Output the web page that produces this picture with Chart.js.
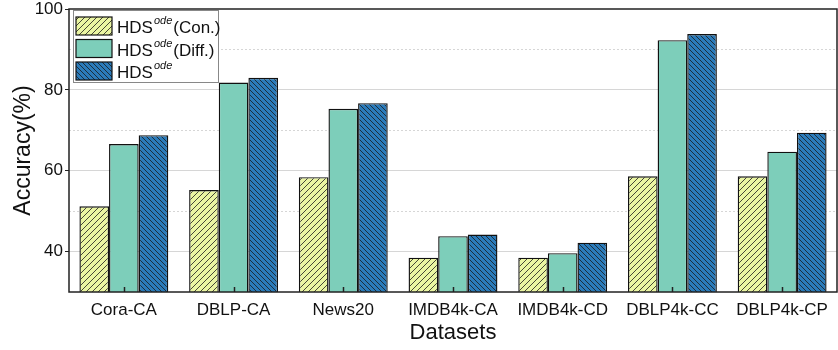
<!DOCTYPE html>
<html lang="en">
<head>
  <meta charset="UTF-8" />
  <title>Accuracy by dataset</title>
  <script src="https://cdn.jsdelivr.net/npm/chart.js"></script>
  <style>
    body { margin: 0; background: #fff; }
    .wrap { width: 838px; height: 350px; }
  </style>
</head>
<body>
  <div class="wrap"><canvas id="acc" width="838" height="350"></canvas></div>

  <script>
    const datasets = ['Cora-CA', 'DBLP-CA', 'News20', 'IMDB4k-CA', 'IMDB4k-CD', 'DBLP4k-CC', 'DBLP4k-CP'];
    const seriesSuffix = ['(Con.)', '(Diff.)', ''];
    const conValues  = [51.2, 55.2, 58.4, 38.5, 38.5, 58.6, 58.6];
    const diffValues = [66.6, 81.8, 75.3, 43.8, 39.6, 92.3, 64.7];
    const fullValues = [68.8, 83.0, 76.7, 44.2, 42.2, 93.8, 69.4];
    const yTicks = [40, 60, 80, 100];

    const FONT = "'Liberation Sans', Arial, sans-serif";

    function hatch(bg, dir, gap) {
      const c = document.createElement('canvas');
      c.width = gap; c.height = gap;
      const g = c.getContext('2d');
      g.fillStyle = bg;
      g.fillRect(0, 0, gap, gap);
      g.strokeStyle = '#1a1a1a';
      g.lineWidth = 0.8;
      g.beginPath();
      if (dir > 0) {
        g.moveTo(-1, gap + 1); g.lineTo(gap + 1, -1);
        g.moveTo(-1, 1); g.lineTo(1, -1);
        g.moveTo(gap - 1, gap + 1); g.lineTo(gap + 1, gap - 1);
      } else {
        g.moveTo(-1, -1); g.lineTo(gap + 1, gap + 1);
        g.moveTo(gap - 1, -1); g.lineTo(gap + 1, 1);
        g.moveTo(-1, gap - 1); g.lineTo(1, gap + 1);
      }
      g.stroke();
      return c.getContext('2d').createPattern(c, 'repeat');
    }

    const ctx = document.getElementById('acc').getContext('2d');
    const fills = [hatch('#eaf5a2', 1, 6), '#7dceba', hatch('#2b7bba', -1, 5)];

    // frame + custom legend with superscript
    const extras = {
      id: 'extras',
      afterDraw(chart) {
        const c = chart.ctx, a = chart.chartArea;
        c.save();
        c.strokeStyle = '#222';
        c.lineWidth = 1.5;
        c.strokeRect(a.left, a.top, a.right - a.left, a.bottom - a.top);

        // small inward ticks at category centres
        const xs = chart.scales.x;
        c.lineWidth = 1.5;
        datasets.forEach((_, i) => {
          const px = Math.round(xs.getPixelForTick(i)) + 0.5;
          c.beginPath();
          c.moveTo(px, a.bottom);
          c.lineTo(px, a.bottom - 5);
          c.stroke();
        });

        // legend box
        c.fillStyle = '#fff';
        c.fillRect(73, 10, 145, 72);
        c.strokeStyle = '#888';
        c.lineWidth = 1;
        c.strokeRect(73.5, 10.5, 145, 72);
        const rows = [17, 39.5, 62];
        chart.data.datasets.forEach((ds, i) => {
          const y = rows[i];
          c.fillStyle = ds.backgroundColor;
          c.fillRect(76, y, 36, 18);
          c.strokeStyle = '#111';
          c.lineWidth = 1.2;
          c.strokeRect(76, y, 36, 18);
          c.fillStyle = '#111';
          c.textBaseline = 'alphabetic';
          c.font = '17px ' + FONT;
          let x = 117;
          c.fillText('HDS', x, y + 16);
          x += c.measureText('HDS').width + 1;
          c.font = 'italic 11px ' + FONT;
          c.fillText('ode', x, y + 7);
          x += c.measureText('ode').width + 1;
          c.font = '17px ' + FONT;
          c.fillText(seriesSuffix[i], x, y + 16);
        });
        c.restore();
      }
    };

    new Chart(ctx, {
      type: 'bar',
      data: {
        labels: datasets,
        datasets: [conValues, diffValues, fullValues].map((v, i) => ({
          label: 'HDS ode' + seriesSuffix[i],
          data: v,
          backgroundColor: fills[i],
          borderColor: '#111',
          borderWidth: 1.4,
          borderSkipped: 'bottom',
          categoryPercentage: 0.81,
          barPercentage: 1
        }))
      },
      options: {
        responsive: false,
        animation: false,
        layout: { padding: { top: 9, right: 1, left: 0, bottom: 0 } },
        plugins: { legend: { display: false }, tooltip: { enabled: false } },
        scales: {
          x: {
            afterFit: s => { s.height = 58; },
            grid: { display: false },
            border: { display: false },
            ticks: { color: '#111', font: { family: FONT, size: 17 }, padding: 0 },
            title: { display: true, text: 'Datasets', color: '#111', font: { family: FONT, size: 22 }, padding: { top: 2 } }
          },
          y: {
            min: 30, max: 100,
            afterFit: s => { s.width = 69; s.paddingTop = 0; },
            afterBuildTicks: s => { s.ticks = [30, 40, 50, 60, 70, 80, 90, 100].map(v => ({ value: v })); },
            ticks: {
              color: '#111',
              font: { family: FONT, size: 17 },
              padding: 2,
              callback: v => yTicks.includes(v) ? v : ''
            },
            grid: {
              color: c => (c.tick && (c.tick.value === 30 || c.tick.value === 100)) ? 'rgba(0,0,0,0)' : '#d6d6d6',
              lineWidth: 1,
              tickLength: 4,
              tickColor: c => (c.tick && yTicks.includes(c.tick.value)) ? '#222' : 'rgba(0,0,0,0)'
            },
            border: {
              display: false,
              dash: c => (c.tick && c.tick.value % 20 !== 0) ? [2, 2] : []
            },
            title: { display: true, text: 'Accuracy(%)', color: '#111', font: { family: FONT, size: 23 }, padding: { top: 10, bottom: 2 } }
          }
        }
      },
      plugins: [extras]
    });
  </script>
</body>
</html>
